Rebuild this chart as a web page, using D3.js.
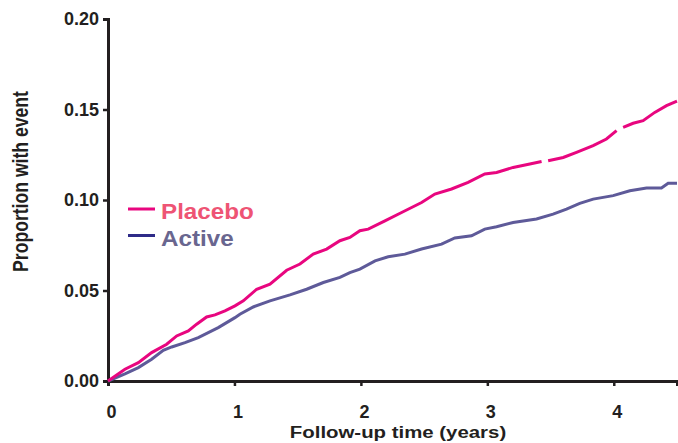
<!DOCTYPE html>
<html>
<head>
<meta charset="utf-8">
<script src="https://cdn.jsdelivr.net/npm/d3@7"></script>
<style>
  body { margin: 0; background: #fff; }
  text { font-family: "Liberation Sans", Arial, sans-serif; font-weight: bold; }
</style>
</head>
<body>
<div id="chart"></div>
<script>
// follow-up time (years) and cumulative proportion
const placeboTime = [0, 0.134, 0.24, 0.345, 0.464, 0.543, 0.635, 0.701, 0.78, 0.846, 0.925, 1.004,
  1.07, 1.176, 1.281, 1.413, 1.518, 1.623, 1.729, 1.834, 1.913, 1.992, 2.058, 2.19, 2.322, 2.48,
  2.585, 2.717, 2.848, 2.98, 3.073, 3.204, 3.336, 3.429, 3.455, 3.481, 3.6, 3.705, 3.837, 3.942,
  4.022, 4.05, 4.074, 4.153, 4.232, 4.324, 4.417, 4.5];
const placeboValue = [0, 0.0065, 0.0101, 0.0157, 0.0203, 0.0249, 0.0277, 0.0314, 0.0354, 0.0365,
  0.0387, 0.0415, 0.0443, 0.0507, 0.0535, 0.0612, 0.0646, 0.0701, 0.0729, 0.0775, 0.0793, 0.083,
  0.0839, 0.0885, 0.0931, 0.0986, 0.1033, 0.1061, 0.1097, 0.1144, 0.1152, 0.118, 0.1199, 0.1213,
  null, 0.1217, 0.1235, 0.1263, 0.13, 0.1337, 0.1383, null, 0.1401, 0.1424, 0.1438, 0.1484,
  0.1521, 0.1546];

const activeTime = [0, 0.134, 0.24, 0.345, 0.437, 0.504, 0.609, 0.714, 0.793, 0.872, 1.004, 1.043,
  1.149, 1.281, 1.439, 1.571, 1.703, 1.834, 1.913, 1.992, 2.112, 2.216, 2.348, 2.48, 2.638, 2.743,
  2.875, 2.98, 3.073, 3.204, 3.389, 3.52, 3.626, 3.731, 3.837, 3.995, 4.127, 4.259, 4.377, 4.43, 4.5];
const activeValue = [0, 0.004, 0.0074, 0.012, 0.017, 0.0188, 0.0212, 0.024, 0.0267, 0.0295, 0.035,
  0.0369, 0.0409, 0.0443, 0.0476, 0.0507, 0.0544, 0.0572, 0.0599, 0.0618, 0.0664, 0.0686, 0.0701,
  0.0729, 0.0756, 0.079, 0.0802, 0.0839, 0.0852, 0.0876, 0.0895, 0.0922, 0.095, 0.0981, 0.1005,
  0.1024, 0.1051, 0.1066, 0.1066, 0.1092, 0.1092];

const xTicks = [0, 1, 2, 3, 4];
const yTicks = [0, 0.05, 0.10, 0.15, 0.20];
const seriesNames = ["Placebo", "Active"];

const width = 678, height = 443;
const margin = { top: 19, right: 1, bottom: 62, left: 108 };

const svg = d3.select("#chart").append("svg")
  .attr("width", width)
  .attr("height", height);

const x = d3.scaleLinear().domain([0, 4.5]).range([margin.left, width - margin.right]);
const y = d3.scaleLinear().domain([0, 0.2]).range([height - margin.bottom, margin.top]);

// axes
const xAxis = svg.append("g")
  .attr("transform", `translate(0,${y(0)})`)
  .call(d3.axisBottom(x).tickValues(xTicks).tickFormat(d3.format("d")).tickSizeOuter(0).tickSize(5).tickPadding(19));
const yAxis = svg.append("g")
  .attr("transform", `translate(${x(0)},0)`)
  .call(d3.axisLeft(y).tickValues(yTicks).tickFormat(d3.format(".2f")).tickSizeOuter(0).tickSize(5).tickPadding(4));

[xAxis, yAxis].forEach(g => {
  g.select(".domain").attr("stroke", "#231f20").attr("stroke-width", 3);
  g.selectAll(".tick line").attr("stroke", "#231f20").attr("stroke-width", 2.5);
  g.selectAll(".tick text").attr("fill", "#231f20").style("font-size", "18px");
});
xAxis.selectAll(".tick text").attr("dx", 3);

// titles are a little wider than the plain font, hence the x scale
svg.append("text")
  .attr("transform", "translate(398,438) scale(1.2,1)")
  .attr("text-anchor", "middle")
  .attr("fill", "#231f20")
  .style("font-size", "17px")
  .text("Follow-up time (years)");

svg.append("text")
  .attr("transform", "translate(28,181.5) scale(1.22,1) rotate(-90)")
  .attr("text-anchor", "middle")
  .attr("fill", "#231f20")
  .style("font-size", "17.6px")
  .text("Proportion with event");

// curves
const line = d3.line()
  .defined(d => d[1] !== null)
  .x(d => x(d[0]))
  .y(d => y(d[1]));

const placebo = placeboTime.map((t, i) => [t, placeboValue[i]]);
const active = activeTime.map((t, i) => [t, activeValue[i]]);

svg.append("path")
  .datum(active)
  .attr("d", line)
  .attr("fill", "none")
  .attr("stroke", "#5e5a99")
  .attr("stroke-width", 3);

svg.append("path")
  .datum(placebo)
  .attr("d", line)
  .attr("fill", "none")
  .attr("stroke", "#e8067f")
  .attr("stroke-width", 3);

// legend
const legendLine = ["#e8067f", "#2e2b88"];
const legendText = ["#ee5474", "#69668f"];
seriesNames.forEach((name, i) => {
  const ly = 209 + i * 26.5;
  svg.append("line")
    .attr("x1", 128).attr("x2", 155)
    .attr("y1", ly).attr("y2", ly)
    .attr("stroke", legendLine[i])
    .attr("stroke-width", 3);
  svg.append("text")
    .attr("transform", `translate(161,${ly + 10}) scale(1.1,1)`)
    .attr("fill", legendText[i])
    .style("font-size", "22px")
    .text(name);
});
</script>
</body>
</html>
